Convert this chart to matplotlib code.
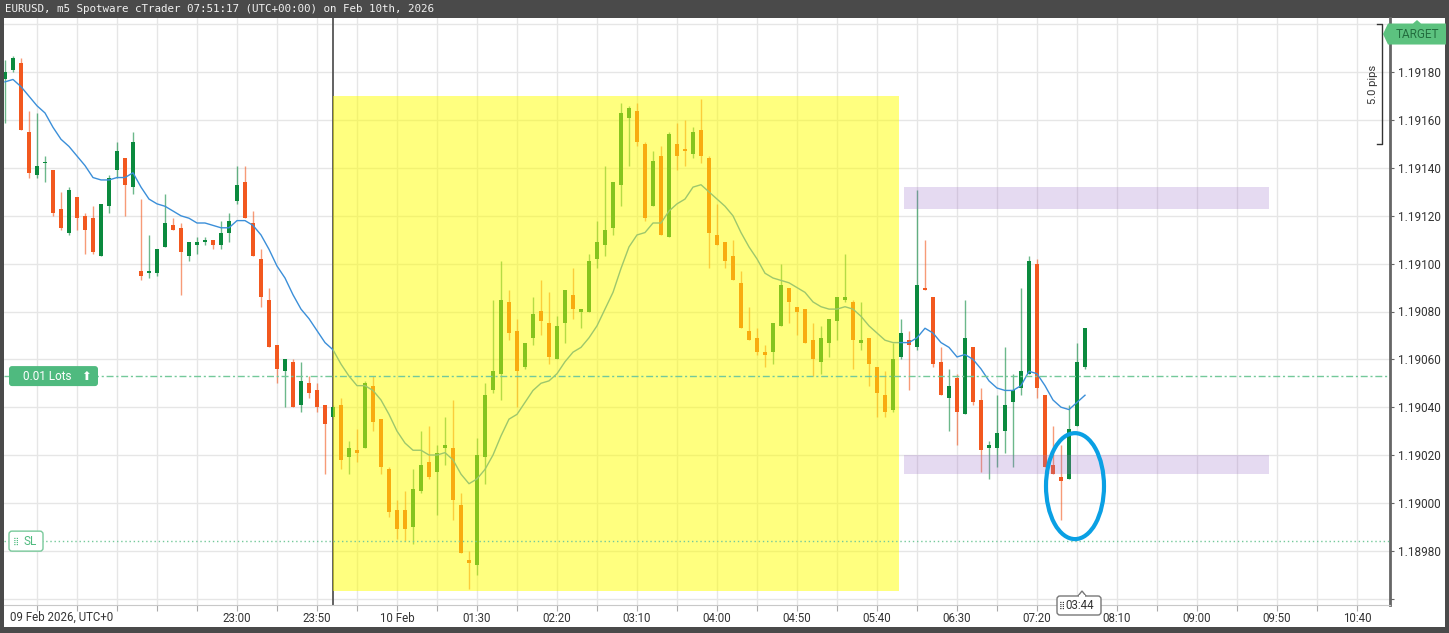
import numpy as np
import pandas as pd
import matplotlib.pyplot as plt
import matplotlib.transforms as mtransforms
from matplotlib.patches import Rectangle, Ellipse, Polygon, FancyBboxPatch

W, H = 1449, 633

# EURUSD m5 candles, first bar 09 Feb 20:35 UTC, last bar 10 Feb 07:50 UTC
first_bar = '2026-02-09 20:35'

opens = [1.19177, 1.19181, 1.19184, 1.19155, 1.19137, 1.19142, 1.19139, 1.19123, 1.19113, 1.19128,
         1.19120, 1.19119, 1.19103, 1.19124, 1.19139, 1.19144, 1.19132, 1.19097, 1.19096, 1.19096,
         1.19107, 1.19116, 1.19115, 1.19103, 1.19108, 1.19109, 1.19110, 1.19108, 1.19113, 1.19126,
         1.19134, 1.19117, 1.19102, 1.19085, 1.19066, 1.19055, 1.19059, 1.19041, 1.19050, 1.19047,
         1.19041, 1.19036, 1.19041, 1.19019, 1.19022, 1.19023, 1.19049, 1.19035, 1.19014, 1.18997,
         1.18997, 1.18990, 1.19005, 1.19017, 1.19013, 1.19023, 1.19023, 1.18999, 1.18976, 1.18974,
         1.19019, 1.19047, 1.19054, 1.19084, 1.19072, 1.19057, 1.19069, 1.19080, 1.19075, 1.19060,
         1.19075, 1.19087, 1.19080, 1.19080, 1.19102, 1.19108, 1.19115, 1.19133, 1.19161, 1.19164,
         1.19150, 1.19124, 1.19145, 1.19111, 1.19150, 1.19148, 1.19146, 1.19156, 1.19144, 1.19112,
         1.19109, 1.19103, 1.19092, 1.19072, 1.19069, 1.19063, 1.19063, 1.19074, 1.19090, 1.19082,
         1.19081, 1.19068, 1.19059, 1.19067, 1.19076, 1.19085, 1.19084, 1.19067, 1.19069, 1.19057,
         1.19045, 1.19039, 1.19061, 1.19068, 1.19065, 1.19090, 1.19086, 1.19059, 1.19044, 1.19052,
         1.19037, 1.19065, 1.19043, 1.19023, 1.19023, 1.19030, 1.19042, 1.19048, 1.19054, 1.19100,
         1.19045, 1.19016, 1.19011, 1.19010, 1.19032, 1.19057]
highs = [1.19185, 1.19187, 1.19186, 1.19164, 1.19163, 1.19145, 1.19139, 1.19130, 1.19132, 1.19128,
         1.19121, 1.19124, 1.19125, 1.19137, 1.19151, 1.19144, 1.19155, 1.19127, 1.19112, 1.19106,
         1.19129, 1.19119, 1.19117, 1.19109, 1.19111, 1.19111, 1.19110, 1.19118, 1.19121, 1.19141,
         1.19141, 1.19122, 1.19106, 1.19090, 1.19066, 1.19060, 1.19060, 1.19059, 1.19053, 1.19050,
         1.19041, 1.19041, 1.19044, 1.19026, 1.19031, 1.19051, 1.19053, 1.19035, 1.19015, 1.19001,
         1.19005, 1.19014, 1.19030, 1.19032, 1.19024, 1.19036, 1.19043, 1.19004, 1.18980, 1.19027,
         1.19050, 1.19085, 1.19101, 1.19089, 1.19077, 1.19067, 1.19086, 1.19093, 1.19088, 1.19078,
         1.19089, 1.19098, 1.19081, 1.19104, 1.19118, 1.19141, 1.19134, 1.19167, 1.19166, 1.19167,
         1.19151, 1.19147, 1.19149, 1.19155, 1.19159, 1.19160, 1.19157, 1.19169, 1.19145, 1.19125,
         1.19109, 1.19110, 1.19097, 1.19082, 1.19073, 1.19066, 1.19075, 1.19100, 1.19090, 1.19082,
         1.19081, 1.19075, 1.19074, 1.19077, 1.19086, 1.19104, 1.19085, 1.19084, 1.19069, 1.19057,
         1.19055, 1.19067, 1.19077, 1.19072, 1.19131, 1.19110, 1.19086, 1.19065, 1.19056, 1.19054,
         1.19085, 1.19065, 1.19048, 1.19026, 1.19045, 1.19065, 1.19054, 1.19090, 1.19103, 1.19102,
         1.19045, 1.19032, 1.19024, 1.19041, 1.19067, 1.19073]
lows = [1.19159, 1.19180, 1.19156, 1.19136, 1.19136, 1.19134, 1.19120, 1.19114, 1.19112, 1.19114,
        1.19104, 1.19104, 1.19103, 1.19121, 1.19136, 1.19120, 1.19129, 1.19093, 1.19094, 1.19095,
        1.19107, 1.19114, 1.19087, 1.19101, 1.19104, 1.19108, 1.19106, 1.19106, 1.19109, 1.19125,
        1.19119, 1.19103, 1.19082, 1.19065, 1.19050, 1.19040, 1.19040, 1.19038, 1.19044, 1.19038,
        1.19012, 1.19035, 1.19014, 1.19012, 1.19017, 1.19023, 1.19030, 1.19012, 1.18994, 1.18985,
        1.18984, 1.18983, 1.19004, 1.19010, 1.18995, 1.19016, 1.18993, 1.18979, 1.18964, 1.18970,
        1.19008, 1.19046, 1.19043, 1.19068, 1.19040, 1.19056, 1.19066, 1.19070, 1.19058, 1.19060,
        1.19067, 1.19077, 1.19073, 1.19080, 1.19098, 1.19103, 1.19112, 1.19124, 1.19141, 1.19149,
        1.19118, 1.19124, 1.19112, 1.19111, 1.19139, 1.19141, 1.19144, 1.19142, 1.19098, 1.19108,
        1.19098, 1.19093, 1.19073, 1.19068, 1.19062, 1.19057, 1.19058, 1.19074, 1.19075, 1.19070,
        1.19067, 1.19053, 1.19054, 1.19061, 1.19068, 1.19084, 1.19056, 1.19064, 1.19049, 1.19036,
        1.19036, 1.19038, 1.19060, 1.19047, 1.19064, 1.19089, 1.19057, 1.19045, 1.19030, 1.19024,
        1.19037, 1.19041, 1.19013, 1.19010, 1.19015, 1.19021, 1.19015, 1.19045, 1.19054, 1.19044,
        1.19015, 1.19012, 1.18993, 1.19010, 1.19032, 1.19056]
closes = [1.19180, 1.19186, 1.19156, 1.19138, 1.19141, 1.19142, 1.19121, 1.19115, 1.19131, 1.19119,
          1.19114, 1.19105, 1.19125, 1.19136, 1.19147, 1.19133, 1.19151, 1.19095, 1.19097, 1.19106,
          1.19117, 1.19114, 1.19105, 1.19109, 1.19109, 1.19110, 1.19108, 1.19113, 1.19118, 1.19133,
          1.19119, 1.19103, 1.19086, 1.19065, 1.19056, 1.19060, 1.19040, 1.19051, 1.19046, 1.19040,
          1.19033, 1.19040, 1.19018, 1.19023, 1.19021, 1.19050, 1.19034, 1.19015, 1.18996, 1.18989,
          1.18989, 1.19006, 1.19016, 1.19011, 1.19021, 1.19024, 1.19001, 1.18979, 1.18975, 1.19020,
          1.19045, 1.19055, 1.19085, 1.19071, 1.19055, 1.19067, 1.19079, 1.19076, 1.19061, 1.19074,
          1.19089, 1.19081, 1.19081, 1.19101, 1.19109, 1.19114, 1.19134, 1.19163, 1.19165, 1.19151,
          1.19119, 1.19143, 1.19112, 1.19154, 1.19145, 1.19147, 1.19155, 1.19145, 1.19113, 1.19108,
          1.19101, 1.19093, 1.19073, 1.19068, 1.19063, 1.19062, 1.19075, 1.19091, 1.19084, 1.19080,
          1.19067, 1.19060, 1.19069, 1.19077, 1.19086, 1.19086, 1.19068, 1.19068, 1.19058, 1.19046,
          1.19038, 1.19060, 1.19071, 1.19066, 1.19091, 1.19089, 1.19058, 1.19045, 1.19049, 1.19038,
          1.19069, 1.19042, 1.19022, 1.19024, 1.19029, 1.19041, 1.19047, 1.19055, 1.19101, 1.19048,
          1.19015, 1.19012, 1.19009, 1.19031, 1.19059, 1.19073]
# moving average line as drawn by the platform
ma_line = [1.19176, 1.19177, 1.19174, 1.19170, 1.19166, 1.19163, 1.19157, 1.19152, 1.19149, 1.19145,
           1.19141, 1.19136, 1.19135, 1.19135, 1.19136, 1.19136, 1.19138, 1.19132, 1.19127, 1.19125,
           1.19124, 1.19122, 1.19120, 1.19119, 1.19117, 1.19117, 1.19116, 1.19115, 1.19115, 1.19118,
           1.19118, 1.19116, 1.19112, 1.19106, 1.19099, 1.19094, 1.19087, 1.19081, 1.19077, 1.19072,
           1.19067, 1.19064, 1.19058, 1.19053, 1.19049, 1.19049, 1.19047, 1.19043, 1.19037, 1.19030,
           1.19025, 1.19022, 1.19022, 1.19020, 1.19020, 1.19021, 1.19018, 1.19012, 1.19008, 1.19010,
           1.19014, 1.19020, 1.19028, 1.19035, 1.19037, 1.19042, 1.19047, 1.19050, 1.19051, 1.19054,
           1.19059, 1.19063, 1.19065, 1.19069, 1.19074, 1.19081, 1.19088, 1.19098, 1.19107, 1.19112,
           1.19113, 1.19117, 1.19117, 1.19122, 1.19125, 1.19127, 1.19132, 1.19133, 1.19130, 1.19127,
           1.19124, 1.19120, 1.19113, 1.19107, 1.19102, 1.19096, 1.19094, 1.19093, 1.19092, 1.19090,
           1.19088, 1.19084, 1.19082, 1.19081, 1.19081, 1.19082, 1.19081, 1.19078, 1.19074, 1.19071,
           1.19068, 1.19067, 1.19067, 1.19067, 1.19069, 1.19073, 1.19071, 1.19067, 1.19065, 1.19061,
           1.19062, 1.19060, 1.19056, 1.19051, 1.19048, 1.19047, 1.19047, 1.19049, 1.19055, 1.19054,
           1.19049, 1.19043, 1.19040, 1.19039, 1.19042, 1.19045]

price_ticks = [1.18960, 1.18980, 1.19000, 1.19020, 1.19040, 1.19060, 1.19080,
               1.19100, 1.19120, 1.19140, 1.19160, 1.19180, 1.19200]
price_labels = ['', '1.18980', '1.19000', '1.19020', '1.19040', '1.19060', '1.19080',
                '1.19100', '1.19120', '1.19140', '1.19160', '1.19180', '']

time_ticks = ['2026-02-09 23:00', '2026-02-09 23:50', '2026-02-10 00:40', '2026-02-10 01:30',
              '2026-02-10 02:20', '2026-02-10 03:10', '2026-02-10 04:00', '2026-02-10 04:50',
              '2026-02-10 05:40', '2026-02-10 06:30', '2026-02-10 07:20', '2026-02-10 08:10',
              '2026-02-10 09:00', '2026-02-10 09:50', '2026-02-10 10:40']
time_labels = ['23:00', '23:50', '10 Feb', '01:30', '02:20', '03:10', '04:00', '04:50',
               '05:40', '06:30', '07:20', '08:10', '09:00', '09:50', '10:40']

title = 'EURUSD, m5 Spotware cTrader 07:51:17 (UTC+00:00) on Feb 10th, 2026'
day_start = '2026-02-10 00:00'

entry_price = 1.19053
sl_price = 1.18984
target_price = 1.19196
pips_span = (1.19150, 1.19200)

zone_time = ('2026-02-10 00:00', '2026-02-10 05:54')
zone_price = (1.18963, 1.19170)
level_time = ('2026-02-10 05:57', '2026-02-10 09:45')
upper_level = (1.19123, 1.19132)
lower_level = (1.19012, 1.19020)
circle_time = '2026-02-10 07:43:45'
circle_price = 1.19007

t0 = pd.Timestamp(first_bar)


def bar_pos(t):
    return (pd.Timestamp(t) - t0) / pd.Timedelta('5min')


plt.rcParams['font.family'] = ['Roboto', 'DejaVu Sans']

fig = plt.figure(figsize=(W / 100, H / 100), dpi=100, facecolor='#4a4a4a')
fig.patches.append(Rectangle((4 / W, 6 / H), 1441 / W, 609 / H, transform=fig.transFigure,
                             fc='white', ec='none', zorder=-10))
fig.text(5 / W, 1 - 9 / H, title, color='#f2f2f2', family='DejaVu Sans Mono',
         fontsize=7.8, va='center', ha='left')

ax = fig.add_axes([4 / W, 28 / H, 1386 / W, 587 / H])
ax.set_xlim(-0.125, 173.125)
ax.set_ylim(1.189573, 1.192027)

o = np.array(opens)
hi = np.array(highs)
lo = np.array(lows)
c = np.array(closes)
x = np.arange(len(c))
up = c >= o
green, red = '#0b8a3e', '#f2581f'
cols = np.where(up, green, red)

ax.vlines(x, lo, hi, colors=cols, lw=1, alpha=0.6, zorder=2)
body_h = np.maximum(np.abs(c - o), 0.000005)
ax.bar(x, body_h, bottom=np.minimum(o, c), width=0.55, color=cols, linewidth=0, zorder=3)
ax.plot(x, ma_line, color='#3b8fd9', lw=1, zorder=3)

ax.axvline(bar_pos(day_start), color='#555555', lw=1.3, zorder=2.5)

# highlighted session and levels
z0, z1 = bar_pos(zone_time[0]), bar_pos(zone_time[1])
ax.add_patch(Rectangle((z0, zone_price[0]), z1 - z0, zone_price[1] - zone_price[0],
                       fc='#ffff00', ec='none', alpha=0.5, zorder=4))
l0, l1 = bar_pos(level_time[0]), bar_pos(level_time[1])
for lvl in (upper_level, lower_level):
    ax.add_patch(Rectangle((l0, lvl[0]), l1 - l0, lvl[1] - lvl[0],
                           fc='#9b6cc9', ec='none', alpha=0.25, zorder=4))

ax.axhline(entry_price, color='#74c99a', lw=1, ls=(0, (5, 2, 1.5, 2)), zorder=5)
ax.axhline(sl_price, color='#74c99a', lw=1, ls=(0, (1, 2)), zorder=5)

ax.add_patch(Ellipse((bar_pos(circle_time), circle_price), 7.25, 0.000443,
                     fill=False, ec='#0aa0e4', lw=3, zorder=9))

# grid and axes
ax.xaxis.remove_overlapping_locs = False
grid_pos = np.arange(4, 174, 5)
ax.set_xticks(grid_pos)
ax.set_xticklabels([])
ax.set_xticks([bar_pos(t) for t in time_ticks], minor=True)
ax.set_xticklabels(time_labels, minor=True)
ax.tick_params(axis='x', which='major', length=4, color='#aaaaaa', direction='out')
ax.tick_params(axis='x', which='minor', length=0, pad=5, labelsize=8.3, labelcolor='#333333')
ax.yaxis.tick_right()
ax.set_yticks(price_ticks)
ax.set_yticklabels(price_labels)
ax.tick_params(axis='y', length=3, color='#666666', pad=3, labelsize=8.5, labelcolor='#333333')
ax.grid(True, which='major', color='#e6e6e6', lw=1, zorder=0)
ax.set_axisbelow(True)
for s in ('top', 'left'):
    ax.spines[s].set_visible(False)
ax.spines['right'].set_color('#666666')
ax.spines['right'].set_linewidth(2)
ax.spines['bottom'].set_color('#c8c8c8')

ax.text((10 - 4) / 1386, -12 / 587, '09 Feb 2026, UTC+0', transform=ax.transAxes,
        fontsize=8.3, color='#333333', ha='left', va='center')


def anchor_at(xd, yd, base=None):
    base = ax.transData if base is None else base
    return fig.dpi_scale_trans + mtransforms.ScaledTranslation(xd, yd, base)


# 0.01 Lots label on the entry line
tr = anchor_at(0, entry_price)
ax.add_patch(FancyBboxPatch((0.04, -0.10), 0.89, 0.20, boxstyle='round,pad=0,rounding_size=0.03',
                            fc='#4fba7f', ec='none', transform=tr, zorder=8, clip_on=False))
ax.text(0.18, 0, '0.01 Lots', transform=tr, color='white', fontsize=8.5, ha='left',
        va='center', zorder=9)
ax.text(0.81, 0, '⬆', transform=tr, color='white', fontsize=8.5, ha='center',
        va='center', zorder=9)

# SL label
tr = anchor_at(0, sl_price)
ax.add_patch(FancyBboxPatch((0.04, -0.10), 0.34, 0.20, boxstyle='round,pad=0,rounding_size=0.03',
                            fc='white', ec='#79c99b', lw=1, transform=tr, zorder=8, clip_on=False))
ax.text(0.11, 0, '⣿', transform=tr, color='#4fba7f', fontsize=6, ha='center',
        va='center', zorder=9)
ax.text(0.18, 0, 'SL', transform=tr, color='#4fba7f', fontsize=8.5, ha='left',
        va='center', zorder=9)

# TARGET label on the price axis
tr = anchor_at(173.125, target_price)
ax.add_patch(Polygon(np.array([(-7, 0), (-2, 10.5), (23, 10.5), (27, 14), (31, 10.5),
                               (56, 10.5), (56, -10.5), (-2, -10.5)]) / 100,
                     closed=True, fc='#5cc27f', ec='none', transform=tr, zorder=10, clip_on=False))
ax.text(0.27, 0, 'TARGET', transform=tr, color='#236e3f', fontsize=8.5, ha='center',
        va='center', zorder=11, clip_on=False)

# 5.0 pips bracket
ax.plot([171.5, 172.09, 172.09, 171.5], [pips_span[1], pips_span[1], pips_span[0], pips_span[0]],
        color='#333333', lw=1, clip_on=False, zorder=6)
tr = anchor_at(173.125, (pips_span[0] + pips_span[1]) / 2)
ax.text(-0.173, 0, '5.0 pips', transform=tr, rotation=90, fontsize=8, color='#333333',
        ha='center', va='center', zorder=6)

# candle countdown label
bt = mtransforms.blended_transform_factory(ax.transData, ax.transAxes)
tr = anchor_at(len(c) - 1, 0, bt)
ax.add_patch(Polygon(np.array([(-7, 9), (-3, 14), (1, 9)]) / 100, closed=True,
                     fc='white', ec='#777777', lw=1, transform=tr, zorder=10, clip_on=False))
ax.add_patch(FancyBboxPatch((-0.28, -0.10), 0.44, 0.19, boxstyle='round,pad=0,rounding_size=0.03',
                            fc='white', ec='#777777', lw=1, transform=tr, zorder=11, clip_on=False))
ax.add_patch(Rectangle((-0.065, 0.08), 0.06, 0.02, fc='white', ec='none', transform=tr,
                       zorder=12, clip_on=False))
ax.text(-0.23, -0.005, '⣿', transform=tr, color='#333333', fontsize=6, ha='center',
        va='center', zorder=12)
ax.text(-0.195, -0.005, '03:44', transform=tr, color='#333333', fontsize=8.3, ha='left',
        va='center', zorder=12)

fig.savefig('out.png', dpi=100, facecolor=fig.get_facecolor())
